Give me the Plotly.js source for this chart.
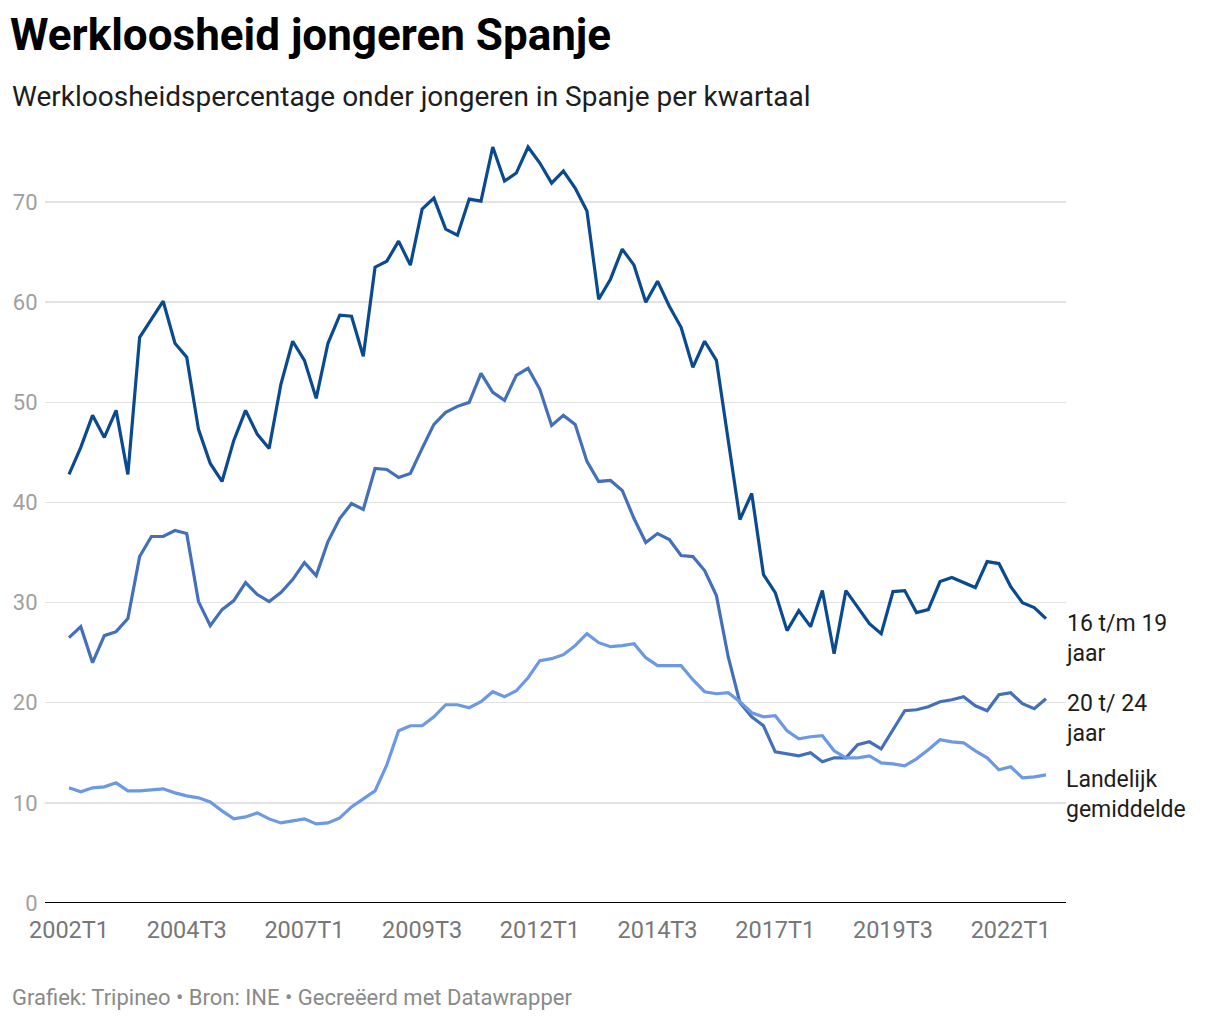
<!DOCTYPE html>
<html>
<head>
<meta charset="utf-8">
<script src="https://cdn.plot.ly/plotly-3.0.1.min.js"></script>
<style>
  html, body { margin: 0; padding: 0; background: #fff; }
  #chart { width: 1220px; height: 1020px; }
</style>
</head>
<body>
<div id="chart"></div>
<script>
// Quarters 2002T1 .. 2022T4
const quarters = [];
for (let y = 2002; y <= 2022; y++) { for (let q = 1; q <= 4; q++) quarters.push(y + 'T' + q); }

const tickLabels = ['2002T1','2004T3','2007T1','2009T3','2012T1','2014T3','2017T1','2019T3','2022T1'];
const yTicks = [0, 10, 20, 30, 40, 50, 60, 70];

const seriesNames = ['16 t/m 19<br>jaar', '20 t/ 24<br>jaar', 'Landelijk<br>gemiddelde'];

const age16to19 = [
  42.8, 45.5, 48.7, 46.5, 49.2, 42.8, 56.5, 58.3, 60.1, 55.9,
  54.5, 47.3, 43.9, 42.1, 46.2, 49.2, 46.8, 45.4, 51.8, 56.1,
  54.2, 50.4, 55.9, 58.7, 58.6, 54.6, 63.5, 64.1, 66.1, 63.7,
  69.3, 70.4, 67.3, 66.7, 70.3, 70.1, 75.5, 72.1, 72.9, 75.5,
  73.9, 71.9, 73.1, 71.4, 69.1, 60.3, 62.3, 65.3, 63.7, 60.0,
  62.1, 59.6, 57.5, 53.5, 56.1, 54.2, 46.0, 38.3, 40.9, 32.8,
  31.0, 27.2, 29.2, 27.6, 31.2, 24.9, 31.2, 29.6, 27.9, 26.9,
  31.1, 31.2, 29.0, 29.3, 32.1, 32.5, 32.0, 31.5, 34.1, 33.9,
  31.6, 30.0, 29.5, 28.4
];

const age20to24 = [
  26.5, 27.6, 24.0, 26.7, 27.1, 28.4, 34.6, 36.6, 36.6, 37.2,
  36.9, 30.1, 27.7, 29.3, 30.2, 32.0, 30.8, 30.1, 31.0, 32.3,
  34.0, 32.7, 36.1, 38.4, 39.9, 39.3, 43.4, 43.3, 42.5, 42.9,
  45.4, 47.8, 49.0, 49.6, 50.0, 52.9, 51.0, 50.2, 52.7, 53.4,
  51.3, 47.7, 48.7, 47.8, 44.1, 42.1, 42.2, 41.2, 38.4, 36.0,
  36.9, 36.3, 34.7, 34.6, 33.2, 30.7, 24.6, 20.0, 18.6, 17.7,
  15.1, 14.9, 14.7, 15.0, 14.1, 14.5, 14.5, 15.8, 16.1, 15.4,
  17.3, 19.2, 19.3, 19.6, 20.1, 20.3, 20.6, 19.7, 19.2, 20.8,
  21.0, 19.9, 19.4, 20.4
];

const national = [
  11.5, 11.1, 11.5, 11.6, 12.0, 11.2, 11.2, 11.3, 11.4, 11.0,
  10.7, 10.5, 10.1, 9.2, 8.4, 8.6, 9.0, 8.4, 8.0, 8.2,
  8.4, 7.9, 8.0, 8.5, 9.6, 10.4, 11.2, 13.8, 17.2, 17.7,
  17.7, 18.6, 19.8, 19.8, 19.5, 20.1, 21.1, 20.6, 21.2, 22.5,
  24.2, 24.4, 24.8, 25.7, 26.9, 26.0, 25.6, 25.7, 25.9, 24.5,
  23.7, 23.7, 23.7, 22.3, 21.1, 20.9, 21.0, 20.1, 19.0, 18.6,
  18.7, 17.2, 16.4, 16.6, 16.7, 15.2, 14.5, 14.5, 14.7, 14.0,
  13.9, 13.7, 14.4, 15.3, 16.3, 16.1, 16.0, 15.2, 14.5, 13.3,
  13.6, 12.5, 12.6, 12.8
];

const colors = ['#0b4a8f', '#4470b9', '#6d98e2'];
const allSeries = [age16to19, age20to24, national];

const FONT = 'Roboto, "Open Sans", sans-serif';

const traces = allSeries.map((vals, i) => ({
  x: quarters,
  y: vals,
  type: 'scatter',
  mode: 'lines',
  line: { color: colors[i], width: 3.2 },
  hoverinfo: 'skip',
  showlegend: false
}));

const annotations = allSeries.map((vals, i) => ({
  xref: 'x', yref: 'y',
  x: quarters[quarters.length - 1],
  y: vals[vals.length - 1],
  text: seriesNames[i],
  showarrow: false,
  xanchor: 'left', yanchor: 'top', align: 'left',
  xshift: 18, yshift: 11,
  font: { family: FONT, size: 23, color: '#1d1d1d' }
}));

const plotTop = 132, plotBottom = 903, plotH = plotBottom - plotTop;
const py = p => (plotBottom - p) / plotH;
const plotLeft = 45, plotRight = 1066, plotW = plotRight - plotLeft;
const px = p => (p - plotLeft) / plotW;

annotations.push({
  xref: 'paper', yref: 'paper', x: px(10), y: py(97),
  xanchor: 'left', yanchor: 'middle', showarrow: false,
  text: 'Werkloosheidspercentage onder jongeren in Spanje per kwartaal',
  font: { family: FONT, size: 28, color: '#1d1d1d' }
});
annotations.push({
  xref: 'paper', yref: 'paper', x: px(10), y: py(997),
  xanchor: 'left', yanchor: 'middle', showarrow: false,
  text: 'Grafiek: Tripineo • Bron: INE • Gecreëerd met Datawrapper',
  font: { family: FONT, size: 22, color: '#8a8a8a' }
});

const layout = {
  width: 1220, height: 1020,
  margin: { l: plotLeft, r: 1220 - plotRight, t: plotTop, b: 1020 - plotBottom, pad: 0 },
  paper_bgcolor: '#ffffff', plot_bgcolor: '#ffffff',
  font: { family: FONT },
  title: {
    text: '<b>Werkloosheid jongeren Spanje</b>',
    xref: 'container', yref: 'container',
    x: 10 / 1220, y: 1 - 35 / 1020, xanchor: 'left', yanchor: 'middle',
    font: { family: FONT, size: 44, color: '#000000' }
  },
  xaxis: {
    type: 'category',
    range: [-2.04, 84.7],
    tickmode: 'array', tickvals: tickLabels, ticktext: tickLabels,
    showgrid: false, zeroline: false, showline: false,
    ticks: 'outside', ticklen: 6, tickcolor: 'rgba(0,0,0,0)',
    tickfont: { family: FONT, size: 23.5, color: '#777777' },
    fixedrange: true
  },
  yaxis: {
    range: [0, 77],
    tickmode: 'array', tickvals: yTicks, ticktext: yTicks.map(String),
    showgrid: true, gridcolor: '#e3e3e3', gridwidth: 1.5,
    zeroline: false, showline: false,
    ticks: 'outside', ticklen: 2, tickcolor: 'rgba(0,0,0,0)',
    tickfont: { family: FONT, size: 22, color: '#a0a0a0' },
    fixedrange: true
  },
  shapes: [{
    type: 'line', xref: 'paper', yref: 'y', x0: 0, x1: 1, y0: 0, y1: 0,
    line: { color: '#000000', width: 2 }
  }],
  annotations: annotations
};

Plotly.newPlot('chart', traces, layout, { displayModeBar: false, staticPlot: true });
</script>
</body>
</html>
